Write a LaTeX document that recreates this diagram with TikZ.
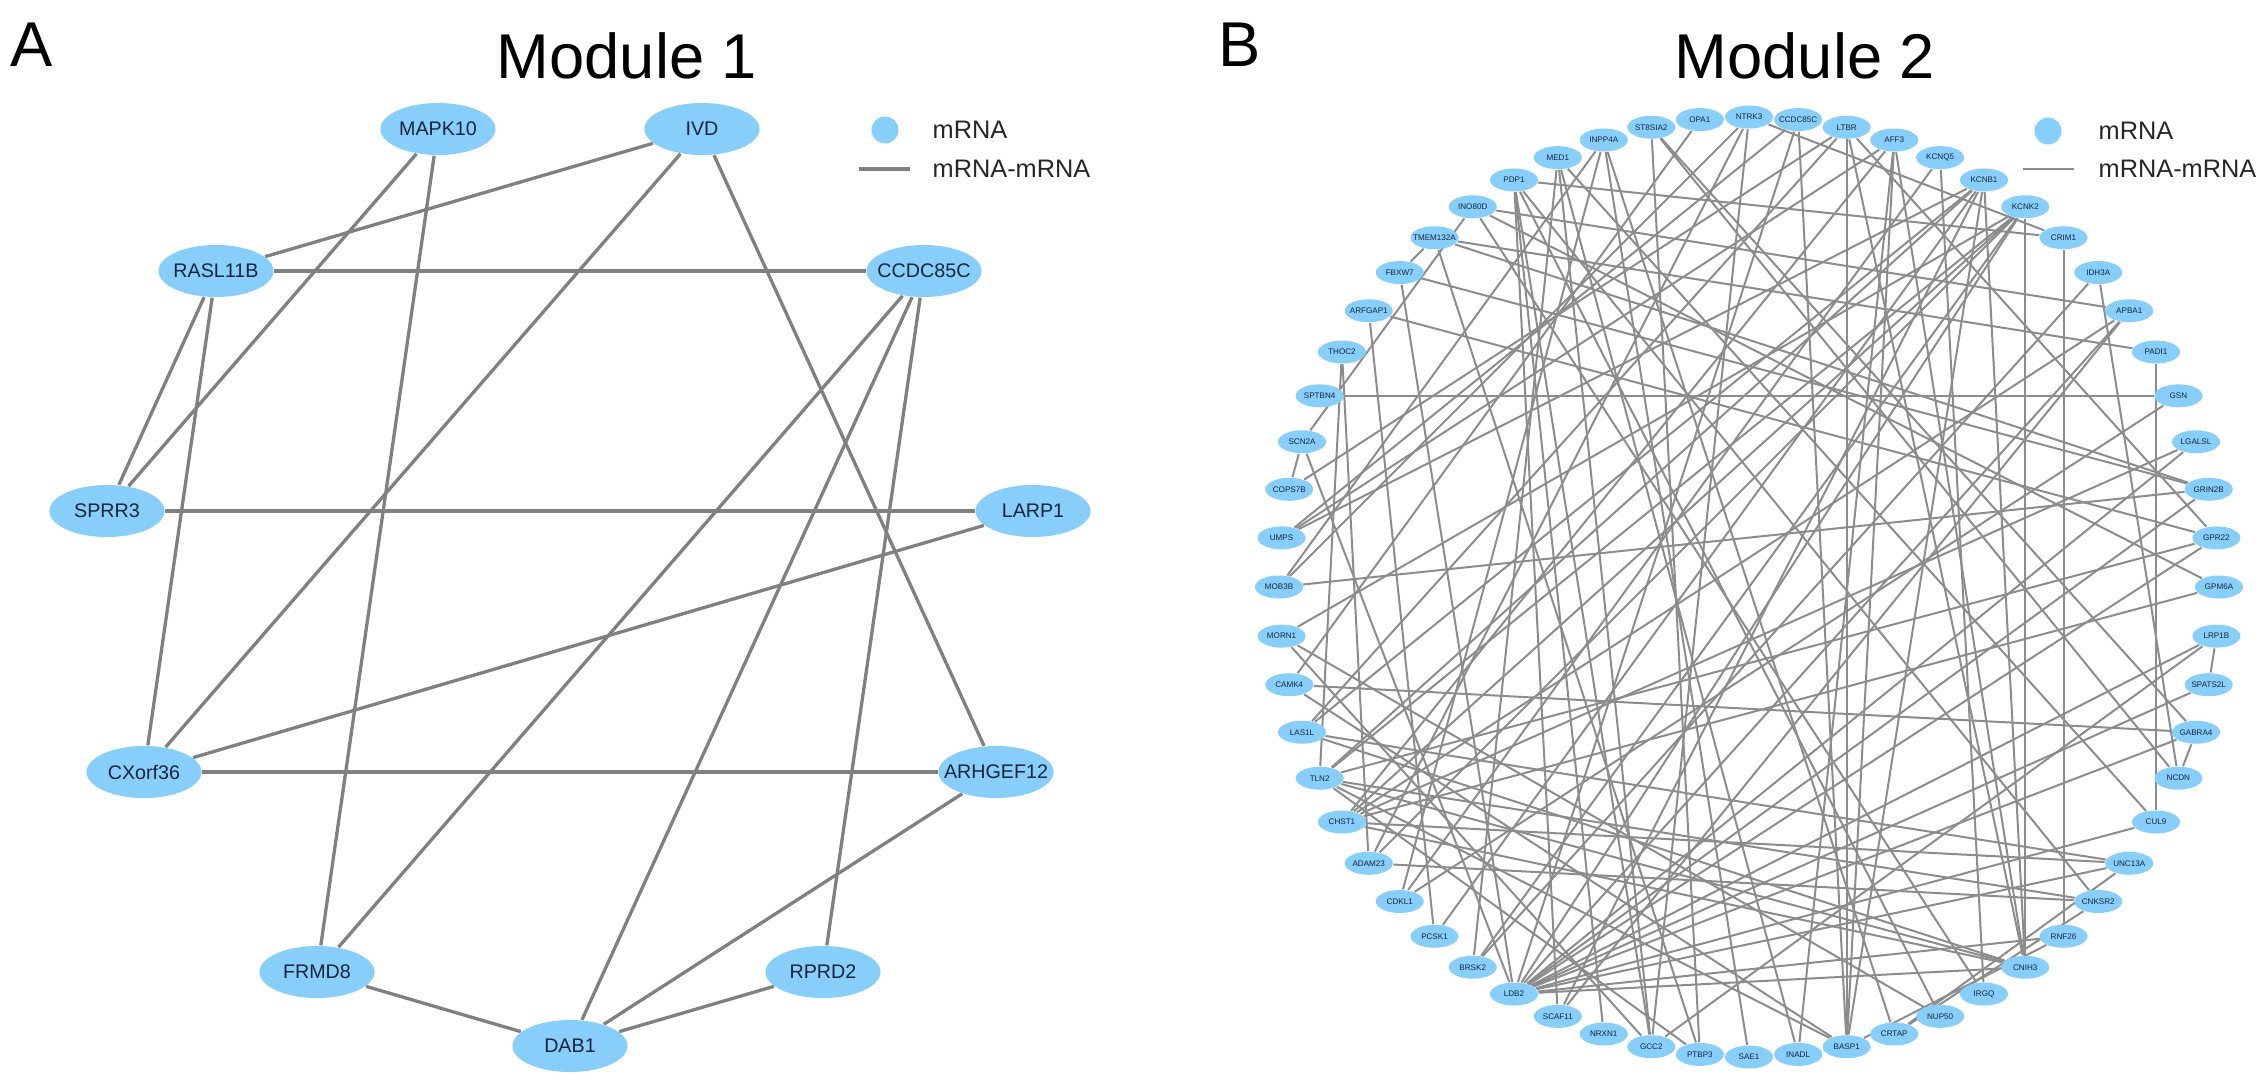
\documentclass[tikz,border=0pt]{standalone}
\usepackage{fontspec}
\setmainfont{Liberation Sans}
\usetikzlibrary{positioning, shapes.geometric}
\definecolor{nodeblue}{RGB}{135,206,250}
\definecolor{labelblue}{RGB}{22,36,62}
\definecolor{edgegray}{RGB}{128,128,128}
\definecolor{thingray}{RGB}{140,140,140}
\pgfdeclarelayer{bg}
\pgfsetlayers{bg,main}
\begin{document}
\begin{tikzpicture}[x=0.01cm, y=-0.01cm,
  bigtext/.style={inner sep=0pt, text=labelblue, font=\fontsize{5.6}{6}\selectfont},
  smalltext/.style={inner sep=0pt, text=labelblue, font=\fontsize{2.3}{2.5}\selectfont},
  bignode/.style={ellipse, fill=nodeblue, minimum width=1.15cm, minimum height=0.52cm, inner sep=0pt, label={[bigtext]center:#1}},
  smallnode/.style={ellipse, fill=nodeblue, minimum width=0.48cm, minimum height=0.23cm, inner sep=0pt, label={[smalltext]center:#1}},
  bigedge/.style={edgegray, line width=0.033cm},
  smalledge/.style={thingray, line width=0.02cm},
  legenddot/.style={circle, fill=nodeblue, minimum size=0.27cm, inner sep=0pt},
  legendtext/.style={anchor=west, inner sep=0pt, text=black!85, font=\fontsize{7.2}{8}\selectfont},
  paneltext/.style={inner sep=0pt, font=\fontsize{18}{21}\selectfont}]
\useasboundingbox (0,0) rectangle (2268,1081);

\node (ta) [paneltext] at (32,45) {A};
\node (t1) [paneltext] at (627,56) {Module 1};
\node (tb) [paneltext] at (1240,45) {B};
\node (t2) [paneltext] at (1805,56) {Module 2};

\node (1) [bignode=MAPK10] at (438,129) {};
\node (2) [bignode=IVD] at (702,129) {};
\node (3) [bignode=CCDC85C] at (924,271) {};
\node (4) [bignode=LARP1] at (1033,511) {};
\node (5) [bignode=ARHGEF12] at (996,772) {};
\node (6) [bignode=RPRD2] at (823,972) {};
\node (7) [bignode=DAB1] at (570,1046) {};
\node (8) [bignode=FRMD8] at (317,972) {};
\node (9) [bignode=CXorf36] at (144,772) {};
\node (10) [bignode=SPRR3] at (107,511) {};
\node (11) [bignode=RASL11B] at (216,271) {};

\foreach \gene [count=\i from 0] in {NTRK3, CCDC85C, LTBR, AFF3, KCNQ5, KCNB1, KCNK2, CRIM1, IDH3A, APBA1,
  PADI1, GSN, LGALSL, GRIN2B, GPR22, GPM6A, LRP1B, SPATS2L, GABRA4, NCDN,
  CUL9, UNC13A, CNKSR2, RNF26, CNIH3, IRGQ, NUP50, CRTAP, BASP1, INADL,
  SAE1, PTBP3, GCC2, NRXN1, SCAF11, LDB2, BRSK2, PCSK1, CDKL1, ADAM23,
  CHST1, TLN2, LAS1L, CAMK4, MORN1, MOB3B, UMPS, COPS7B, SCN2A, SPTBN4,
  THOC2, ARFGAP1, FBXW7, TMEM132A, INO80D, PDP1, MED1, INPP4A, ST8SIA2, OPA1}
  \node (b\i) [smallnode=\gene] at ({1749+470*cos(90-6*\i)},{587-470*sin(90-6*\i)}) {};

\node (d1) [legenddot] at (885,130) {};
\node (m1) [legendtext] at (932,130) {mRNA};
\node (e1) [legendtext] at (932,169) {mRNA-mRNA};
\coordinate (l1a) at (859,169);
\coordinate (l1b) at (910,169);
\draw [bigedge] (l1a) -- (l1b);

\node (d2) [legenddot] at (2048,131) {};
\node (m2) [legendtext] at (2098,131) {mRNA};
\node (e2) [legendtext] at (2098,169) {mRNA-mRNA};
\coordinate (l2a) at (2023,169);
\coordinate (l2b) at (2074,169);
\draw [smalledge] (l2a) -- (l2b);

\begin{pgfonlayer}{bg}
\foreach \p/\q in {11/3, 11/2, 11/10, 11/9, 1/10, 1/8, 2/9, 2/5, 3/8, 3/7, 3/6, 10/4, 4/9, 9/5, 8/7, 7/6, 7/5}
  \draw [bigedge] (\p) -- (\q);
\foreach \p/\q in {49/11, 2/28, 6/24, 50/41, 48/35, 48/47, 51/37, 52/35, 58/18, 58/19, 59/43, 0/7, 0/39,
  55/7, 55/33, 55/26, 55/22, 56/32, 56/20, 57/38, 57/27, 57/30, 53/10, 54/9, 35/17, 35/18, 35/20,
  35/21, 35/14, 35/9, 35/1, 32/0, 31/58, 44/26, 7/23, 10/20, 8/19, 16/17, 18/19, 5/24, 4/25, 43/18,
  40/21, 41/31, 6/35, 6/39, 6/41, 6/36, 6/44, 6/40, 5/41, 5/46, 5/42, 5/37, 5/34, 3/28, 3/24, 3/40,
  3/29, 2/24, 2/42, 2/47, 1/28, 1/46, 0/45, 4/38, 8/36, 9/40, 9/34, 11/38, 12/35, 12/40, 13/35,
  13/53, 13/52, 14/41, 14/2, 15/40, 15/54, 16/35, 16/32, 21/42, 21/27, 22/41, 22/39, 22/27, 23/35,
  23/28, 24/40, 24/41, 24/42, 24/35, 25/54, 28/41, 28/43, 28/5, 29/56, 31/53, 32/55, 34/55, 36/56,
  39/50, 44/32, 45/13, 46/3, 51/14, 54/48, 53/52, 57/45}
  \draw [smalledge] (b\p) -- (b\q);
\end{pgfonlayer}

\end{tikzpicture}
\end{document}
